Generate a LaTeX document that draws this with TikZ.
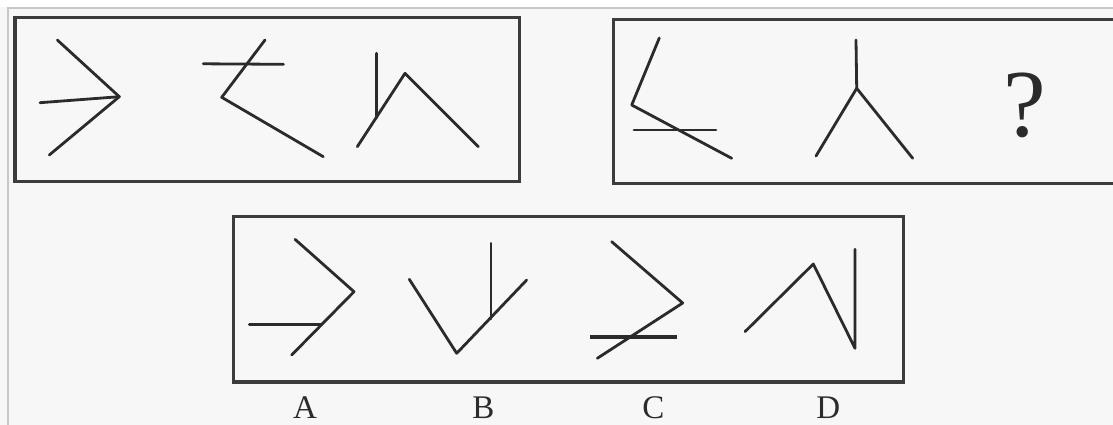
\documentclass[tikz,border=0pt]{standalone}
\usepackage{fontspec}
\setmainfont{Liberation Serif}
\definecolor{paper}{HTML}{F6F7F6}
\definecolor{ink}{HTML}{2B2B2B}
\definecolor{frame}{HTML}{3C3C3C}
\definecolor{scanedge}{HTML}{C8C8C8}
\begin{document}
\begin{tikzpicture}[x=1pt,y=-1pt,
  stroke/.style={draw=ink,line width=2.8pt,line cap=round,line join=round},
  boxframe/.style={draw=frame,line width=3.4pt},
  optlabel/.style={anchor=base,text=ink,font=\fontsize{33}{33}\selectfont,inner sep=0pt},
  qmark/.style={anchor=base,text=ink,font=\fontsize{96}{96}\selectfont,inner sep=0pt}]
\useasboundingbox (0,0) rectangle (1113,425);
\fill[paper] (0,0) rectangle (1113,425);
\fill[white] (0,0) rectangle (1113,7);
\draw[scanedge,line width=1.6pt] (8,425) -- (8,8) -- (1113,8);
% frames
\draw[boxframe] (15,17.5) rectangle (519.5,181.5);
\draw[boxframe] (1116,19.5) -- (613.3,19.5) -- (613.3,183.3) -- (1116,183.3);
\draw[boxframe] (233.3,216.5) rectangle (903.3,382);
% figure 1
\coordinate (f1a) at (57.3,40);
\coordinate (f1v) at (119.3,96.7);
\coordinate (f1b) at (49.3,155);
\coordinate (f1h) at (40,102.7);
\draw[stroke] (f1a) -- (f1v) -- (f1b);
\draw[stroke] (f1h) -- (f1v);
% figure 2
\coordinate (f2h1) at (203.3,63.8);
\coordinate (f2h2) at (283.5,64.3);
\coordinate (f2t) at (265,40);
\coordinate (f2v) at (221.7,97.3);
\coordinate (f2e) at (323.3,156.7);
\draw[stroke] (f2h1) -- (f2h2);
\draw[stroke] (f2t) -- (f2v) -- (f2e);
% figure 3
\coordinate (f3t) at (376.7,53.3);
\coordinate (f3j) at (376.7,118);
\coordinate (f3l) at (357.3,146.7);
\coordinate (f3p) at (405,73.3);
\coordinate (f3r) at (478.3,146.7);
\draw[stroke] (f3t) -- (f3j);
\draw[stroke] (f3l) -- (f3p) -- (f3r);
% figure 4
\coordinate (f4t) at (659.3,38);
\coordinate (f4v) at (631.7,105);
\coordinate (f4e) at (731.7,158.3);
\coordinate (f4h1) at (634,130);
\coordinate (f4h2) at (716,130);
\draw[stroke] (f4t) -- (f4v) -- (f4e);
\draw[stroke] (f4h1) -- (f4h2);
% figure 5
\coordinate (f5t) at (856,40);
\coordinate (f5j) at (856.7,88.3);
\coordinate (f5l) at (816,156);
\coordinate (f5r) at (912.7,158.3);
\draw[stroke] (f5t) -- (f5j);
\draw[stroke] (f5l) -- (f5j) -- (f5r);
% question mark
\node[qmark] (q) at (1025,136) {?};
% option A
\coordinate (aa) at (295,239.3);
\coordinate (av) at (354,291.7);
\coordinate (ab) at (291.7,355);
\coordinate (ah1) at (249.3,324.5);
\coordinate (ah2) at (321.7,324.5);
\draw[stroke] (aa) -- (av) -- (ab);
\draw[stroke] (ah1) -- (ah2);
% option B
\coordinate (bl) at (409.3,279.3);
\coordinate (bv) at (456.7,353.3);
\coordinate (br) at (526.7,280);
\coordinate (bt) at (491,243.3);
\coordinate (bj) at (491,319);
\draw[stroke] (bl) -- (bv) -- (br);
\draw[stroke] (bt) -- (bj);
% option C
\coordinate (ct) at (611.7,241.7);
\coordinate (cv) at (682.7,303);
\coordinate (cb) at (597.3,358.3);
\coordinate (ch1) at (590,336.7);
\coordinate (ch2) at (676.7,336.7);
\draw[stroke] (ct) -- (cv) -- (cb);
\draw[stroke,line width=3.6pt,line cap=butt] (ch1) -- (ch2);
% option D
\coordinate (dl) at (745,331.7);
\coordinate (dp) at (813.3,264);
\coordinate (db) at (855,348.3);
\coordinate (dt) at (855,249.3);
\draw[stroke] (dl) -- (dp) -- (db) -- (dt);
% labels
\node[optlabel] (la) at (305,418) {A};
\node[optlabel] (lb) at (483.3,418) {B};
\node[optlabel] (lc) at (653.3,418) {C};
\node[optlabel] (ld) at (828.3,418) {D};
\end{tikzpicture}
\end{document}
